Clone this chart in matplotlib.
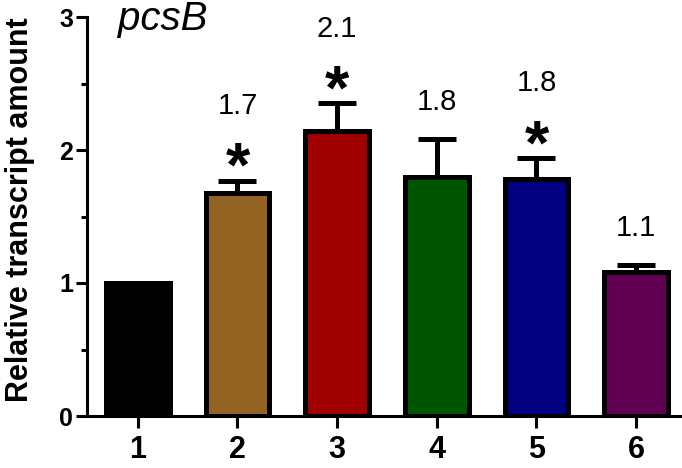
import numpy as np
import matplotlib
matplotlib.use("Agg")
import matplotlib.pyplot as plt

plt.rcParams['font.family'] = ['Liberation Sans', 'DejaVu Sans']

# data
groups = ['1', '2', '3', '4', '5', '6']
means = [1.00, 1.68, 2.14, 1.80, 1.78, 1.08]
errs = [0.0, 0.09, 0.21, 0.28, 0.16, 0.055]
labels = ['', '1.7', '2.1', '1.8', '1.8', '1.1']
stars = [False, True, True, False, True, False]
colors = ['#000000', '#936321', '#a00000', '#005500', '#000080', '#600050']

fig = plt.figure(figsize=(6.82, 4.68), dpi=100)
ax = fig.add_axes([87 / 682, 52 / 468, 1 - 87 / 682, 399 / 468])

x = np.arange(1, len(groups) + 1)
ax.bar(x, means, width=0.64, color=colors, edgecolor='black', linewidth=3.6, zorder=3)

# upper error bars only (bar 1 has none)
up = np.array(errs)
ax.errorbar(x[1:], means[1:], yerr=[np.zeros(5), up[1:]], fmt='none', ecolor='black',
            elinewidth=3.6, capsize=13.5, capthick=3.6, zorder=2)

for xi, m, e, lab, st in zip(x, means, errs, labels, stars):
    cap = m + e
    if st:
        ax.text(xi, cap - 0.04, '*', ha='center', va='baseline', fontsize=45,
                fontweight='bold', zorder=4)
        ax.text(xi, cap + 0.5, lab, ha='center', va='baseline', fontsize=21)
    elif lab:
        ax.text(xi, cap + 0.22, lab, ha='center', va='baseline', fontsize=21)

ax.set_xlim(0.49, 6.46)
ax.set_ylim(0, 3)
ax.set_yticks([0, 1, 2, 3])
ax.set_yticks([0.5, 1.5, 2.5], minor=True)
ax.set_xticks(x)
ax.set_xticklabels(groups, fontsize=22, fontweight='bold')
ax.set_yticklabels(['0', '1', '2', '3'], fontsize=18, fontweight='bold')
ax.tick_params(axis='y', which='major', length=8, width=2.2, pad=2)
ax.tick_params(axis='y', which='minor', length=4.5, width=2.2)
ax.tick_params(axis='x', length=8.5, width=2.2, pad=5)

for s in ['top', 'right']:
    ax.spines[s].set_visible(False)
for s in ['left', 'bottom']:
    ax.spines[s].set_linewidth(2.2)

fig.text(20 / 682, 1 - 210 / 468, 'Relative transcript amount', rotation=90,
         ha='center', va='center', fontsize=22, fontweight='bold')
fig.text(118 / 682, 1 - 30 / 468, 'pcsB', style='italic', fontsize=29, va='baseline')

fig.savefig('out.png', dpi=100)
